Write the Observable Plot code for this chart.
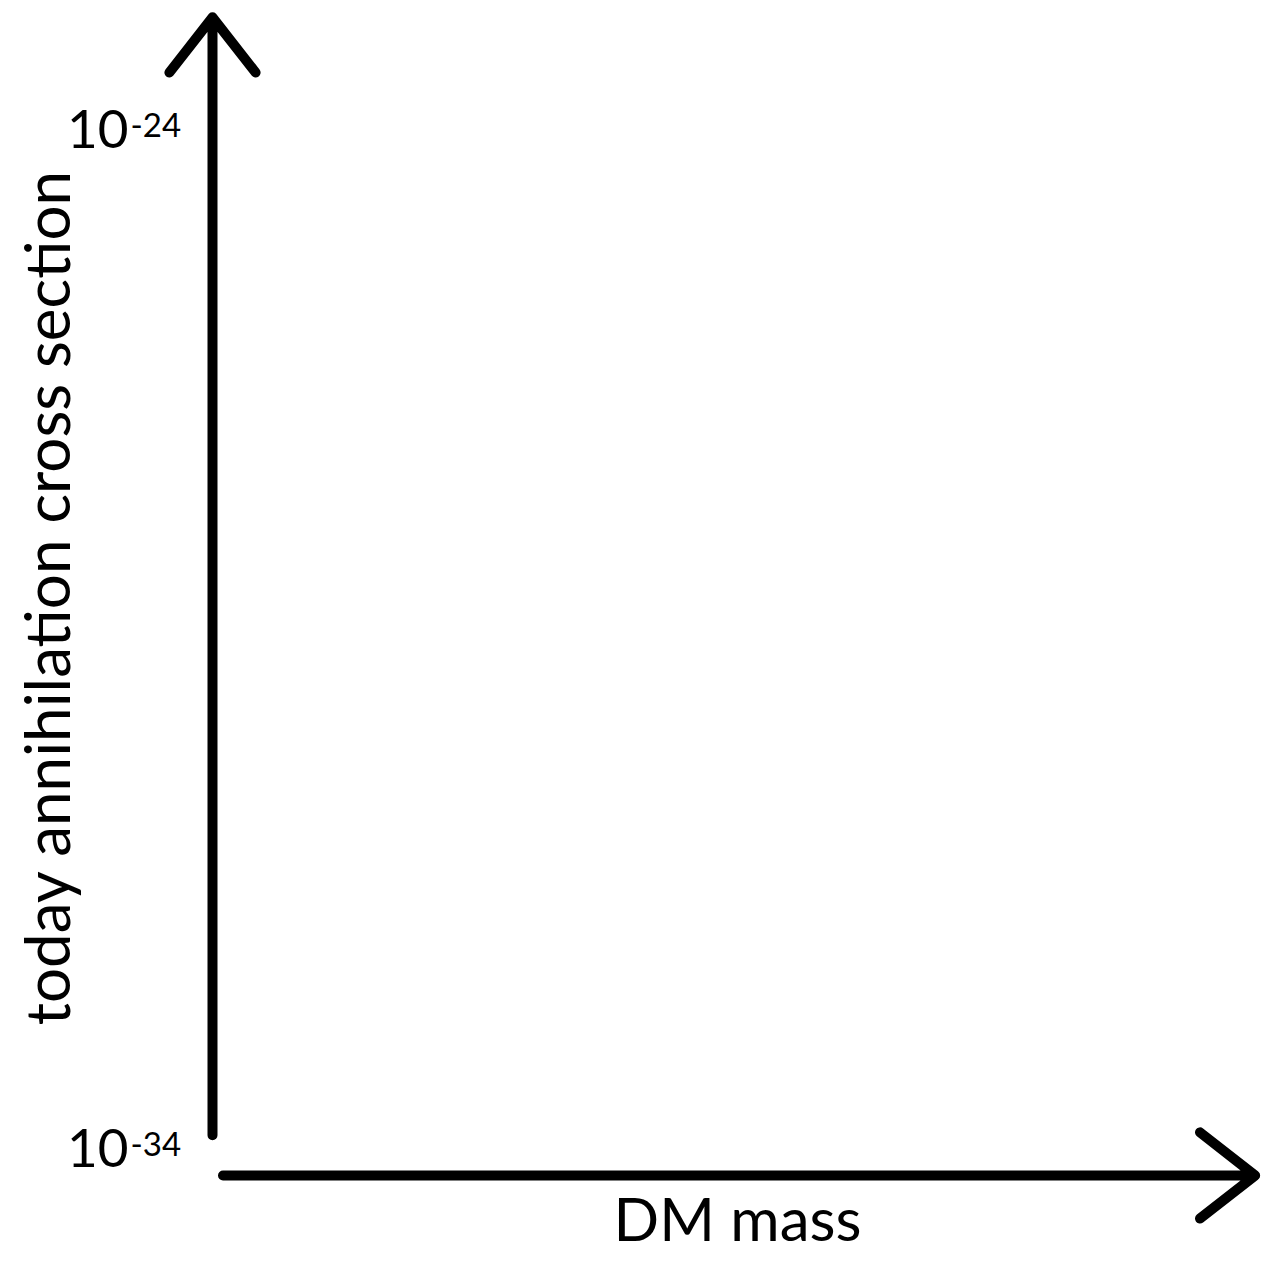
<!DOCTYPE html>
<html><head><meta charset="utf-8">
<script src="https://cdn.jsdelivr.net/npm/d3@7"></script>
<script src="https://cdn.jsdelivr.net/npm/@observablehq/plot@0.6"></script>
<style>body{margin:0;background:#fff}</style>
</head><body><div id="chart"></div>
<script>
// Axis domains (log y: today annihilation cross section; x: DM mass, arbitrary units)
const yDomain = [1e-34, 1e-24];
const xDomain = [0, 100];
// Tick labels
const yTicks = [1e-34, 1e-24];
const yTickBase = ["10", "10"];
const yTickExp = ["-34", "-24"];
// Axis titles
const xLabel = "DM mass";
const yLabel = "today annihilation cross section";
// Hand-drawn axis arrows (extents in data units)
const arrowNames = ["y-axis", "x-axis"];
const arrowX1 = [0, 1];
const arrowX2 = [0, 99.3];
const arrowY1 = [10 ** -33.85, 10 ** -34.245];
const arrowY2 = [10 ** -22.88, 10 ** -34.245];

const ticks = yTicks.map((v, i) => ({v, base: yTickBase[i], exp: yTickExp[i]}));
const arrows = arrowNames.map((n, i) => ({n, x1: arrowX1[i], x2: arrowX2[i], y1: arrowY1[i], y2: arrowY2[i]}));

const font = "Lato, 'Open Sans', sans-serif";

const chart = Plot.plot({
  width: 1262,
  height: 1261,
  marginLeft: 212,
  marginRight: 0,
  marginTop: 131,
  marginBottom: 111,
  style: {background: "#fff", fontFamily: font, color: "#000"},
  x: {domain: xDomain, axis: null},
  y: {type: "log", domain: yDomain, axis: null},
  marks: [
    Plot.arrow(arrows, {x1: "x1", y1: "y1", x2: "x2", y2: "y2", stroke: "#000", strokeWidth: 10, headLength: 10.5, headAngle: 76, strokeLinecap: "round", strokeLinejoin: "miter"}),
    Plot.text(ticks, {x: () => xDomain[0], y: "v", text: "base", textAnchor: "end", dx: -84, fontSize: 53, fill: "#000"}),
    Plot.text(ticks, {x: () => xDomain[0], y: "v", text: "exp", textAnchor: "start", dx: -82, dy: -5, fontSize: 33, fill: "#000"}),
    Plot.text([xLabel], {frameAnchor: "bottom", text: d => d, textAnchor: "middle", lineAnchor: "middle", dy: 71, fontSize: 60, fill: "#000"}),
    Plot.text([yLabel], {frameAnchor: "left", text: d => d, textAnchor: "middle", lineAnchor: "middle", rotate: -90, dx: -162, dy: -43, fontSize: 62, fill: "#000"})
  ]
});
document.getElementById("chart").appendChild(chart);
</script>
</body></html>
